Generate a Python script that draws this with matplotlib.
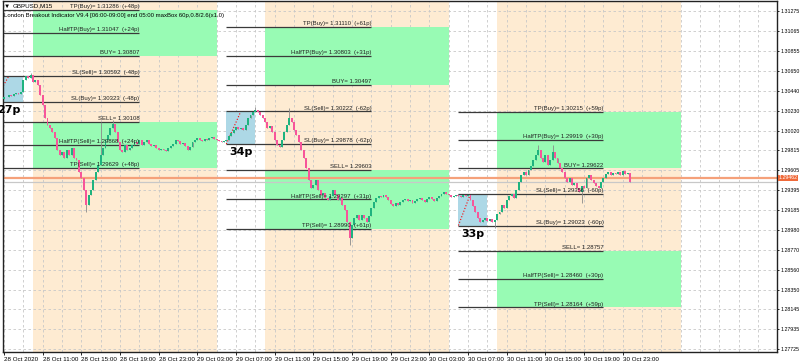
import numpy as np
import pandas as pd
import matplotlib
matplotlib.use("Agg")
from matplotlib import pyplot as plt
from matplotlib.patches import Rectangle

plt.rcParams['font.family'] = ['Liberation Sans', 'DejaVu Sans']

# GBPUSD M15 closes, first bar 28 Oct 2020 07:00
closes = [
    1.30372, 1.30372, 1.30393, 1.30382, 1.30403, 1.30414, 1.30403, 1.30424, 1.30551, 1.30593,
    1.30572, 1.30603, 1.30530, 1.30551, 1.30498, 1.30393, 1.30288, 1.30151, 1.30078, 1.30046,
    1.30004, 1.29941, 1.29815, 1.29763, 1.29794, 1.29731, 1.29815, 1.29763, 1.29836, 1.29731,
    1.29710, 1.29585, 1.29522, 1.29396, 1.29238, 1.29343, 1.29396, 1.29501, 1.29585, 1.29658,
    1.29763, 1.29836, 1.29920, 1.29973, 1.30046, 1.30088, 1.30004, 1.29899, 1.29815, 1.29794,
    1.29868, 1.29815, 1.29836, 1.29868, 1.29899, 1.29878, 1.29920, 1.29868, 1.29899, 1.29920,
    1.29878, 1.29857, 1.29868, 1.29836, 1.29815, 1.29826, 1.29815, 1.29805, 1.29836, 1.29857,
    1.29878, 1.29920, 1.29910, 1.29878, 1.29889, 1.29857, 1.29815, 1.29847, 1.29899, 1.29920,
    1.29941, 1.29920, 1.29910, 1.29931, 1.29920, 1.29941, 1.29952, 1.29931, 1.29920, 1.29910,
    1.29899, 1.29910, 1.29920, 1.29962, 1.29994, 1.30025, 1.30057, 1.30036, 1.30046, 1.30025,
    1.30078, 1.30151, 1.30183, 1.30214, 1.30235, 1.30214, 1.30183, 1.30151, 1.30109, 1.30046,
    1.30067, 1.30004, 1.29920, 1.29868, 1.29847, 1.29920, 1.30004, 1.30078, 1.30151, 1.30109,
    1.30025, 1.29973, 1.29899, 1.29815, 1.29731, 1.29627, 1.29501, 1.29417, 1.29448, 1.29501,
    1.29396, 1.29343, 1.29364, 1.29312, 1.29291, 1.29333, 1.29396, 1.29343, 1.29291, 1.29312,
    1.29238, 1.29186, 1.29060, 1.28892, 1.29028, 1.29102, 1.29133, 1.29081, 1.29133, 1.29102,
    1.29060, 1.29123, 1.29207, 1.29270, 1.29312, 1.29333, 1.29322, 1.29343, 1.29322, 1.29291,
    1.29249, 1.29228, 1.29259, 1.29238, 1.29270, 1.29291, 1.29301, 1.29280, 1.29291, 1.29259,
    1.29280, 1.29301, 1.29312, 1.29291, 1.29270, 1.29301, 1.29322, 1.29301, 1.29280, 1.29312,
    1.29333, 1.29354, 1.29375, 1.29354, 1.29343, 1.29322, 1.29333, 1.29343, 1.29333, 1.29322,
    1.29343, 1.29333, 1.29343, 1.29291, 1.29228, 1.29165, 1.29102, 1.29060, 1.29081, 1.29102,
    1.29070, 1.29091, 1.29060, 1.29081, 1.29144, 1.29165, 1.29238, 1.29207, 1.29291, 1.29333,
    1.29354, 1.29312, 1.29396, 1.29480, 1.29553, 1.29585, 1.29553, 1.29606, 1.29648, 1.29710,
    1.29763, 1.29815, 1.29731, 1.29689, 1.29763, 1.29658, 1.29710, 1.29794, 1.29731, 1.29679,
    1.29627, 1.29585, 1.29522, 1.29480, 1.29522, 1.29448, 1.29469, 1.29417, 1.29375, 1.29438,
    1.29417, 1.29522, 1.29553, 1.29501, 1.29469, 1.29438, 1.29417, 1.29480, 1.29522, 1.29564,
    1.29585, 1.29553, 1.29574, 1.29564, 1.29585, 1.29553, 1.29595, 1.29564, 1.29574, 1.29480,
]
first_open = 1.30350

# longer wicks visible on the chart
extra_highs = {'2020-10-28 09:45': 1.30624, '2020-10-28 17:00': 1.30109,
               '2020-10-28 18:15': 1.30130, '2020-10-29 09:00': 1.30267,
               '2020-10-29 12:30': 1.30256, '2020-10-30 14:15': 1.29868,
               '2020-10-30 15:45': 1.29868}
extra_lows = {'2020-10-28 15:30': 1.29165, '2020-10-29 18:45': 1.28818,
              '2020-10-30 09:45': 1.28997, '2020-10-30 18:45': 1.29259}

# breakout setups (one per day)
box_start = ['2020-10-28 06:00', '2020-10-29 06:00', '2020-10-30 06:00']
box_end = ['2020-10-28 09:00', '2020-10-29 09:00', '2020-10-30 09:00']
box_peak = ['2020-10-28 07:30', '2020-10-29 07:30', '2020-10-30 07:15']
line_end = ['2020-10-28 21:00', '2020-10-29 21:00', '2020-10-30 21:00']
session_start = ['2020-10-28 10:00', '2020-10-29 10:00', '2020-10-30 10:00']
session_end = ['2020-10-29 05:00', '2020-10-30 05:00', '2020-10-31 05:00']
box_pips = ['27p', '34p', '33p']
tp_buy = [1.31286, 1.31110, 1.30215]
half_tp_buy = [1.31047, 1.30803, 1.29919]
buy = [1.30807, 1.30497, 1.29622]
sl_sell = [1.30592, 1.30222, 1.29356]
sl_buy = [1.30323, 1.29878, 1.29023]
sell = [1.30108, 1.29603, 1.28757]
half_tp_sell = [1.29868, 1.29297, 1.28460]
tp_sell = [1.29629, 1.28990, 1.28164]
tp_p = ['+48p', '+61p', '+59p']
half_p = ['+24p', '+31p', '+30p']
sl_p = ['-48p', '-62p', '-60p']

yticks = [1.31275, 1.31065, 1.30855, 1.30650, 1.30440, 1.30230, 1.30020, 1.29815, 1.29605,
          1.29395, 1.29185, 1.28980, 1.28770, 1.28560, 1.28350, 1.28145, 1.27935, 1.27725]
xtick_times = pd.date_range('2020-10-28 07:00', '2020-10-30 23:00', freq='4h')
ask_price = 1.29522
bid_price = 1.29462

T0 = pd.Timestamp('2020-10-28 06:00')


def xpos(t):
    return (pd.Timestamp(t) - T0) / pd.Timedelta('15min')


times = pd.date_range('2020-10-28 07:00', periods=len(closes), freq='15min')
x = np.array([xpos(t) for t in times])
c = np.array(closes)
o = np.concatenate([[first_open], c[:-1]])
h = np.maximum(o, c)
l = np.minimum(o, c)
for t, v in extra_highs.items():
    k = int(xpos(t) - x[0])
    h[k] = max(h[k], v)
for t, v in extra_lows.items():
    k = int(xpos(t) - x[0])
    l[k] = min(l[k], v)

fig = plt.figure(figsize=(8, 3.62), dpi=100)
ax = fig.add_axes([3 / 800, 10 / 362, 774 / 800, 351 / 362])
ax.set_xlim(3.6, 323.8)
ax.set_ylim(1.27695, 1.31380)

beige = '#feebd2'
green = '#98fbb4'
blue = '#add8e6'

for i in range(3):
    s0, s1 = xpos(session_start[i]), xpos(session_end[i])
    ax.axvspan(s0, s1, color=beige, zorder=0, lw=0)
    ax.add_patch(Rectangle((s0, buy[i]), s1 - s0, tp_buy[i] - buy[i],
                           color=green, lw=0, zorder=1))
    ax.add_patch(Rectangle((s0, tp_sell[i]), s1 - s0, sell[i] - tp_sell[i],
                           color=green, lw=0, zorder=1))
    b0, b1 = xpos(box_start[i]), xpos(box_end[i])
    ax.add_patch(Rectangle((b0, sl_buy[i]), b1 - b0, sl_sell[i] - sl_buy[i],
                           color=blue, lw=0, zorder=1.2))
    ax.plot([b0, xpos(box_peak[i])], [sl_buy[i], sl_sell[i]], ls=':', color='red',
            lw=0.8, zorder=1.3)
    ax.text(b0 + 1.2, sl_buy[i] - 0.00035, box_pips[i], fontsize=8, fontweight='bold',
            family='DejaVu Sans', va='top', ha='left', zorder=5)

    e = xpos(line_end[i])
    levels = [
        (tp_buy[i], 'TP(Buy)= %.5f  (%s)' % (tp_buy[i], tp_p[i])),
        (half_tp_buy[i], 'HalfTP(Buy)= %.5f  (%s)' % (half_tp_buy[i], half_p[i])),
        (buy[i], 'BUY= %.5f' % buy[i]),
        (sl_sell[i], 'SL(Sell)= %.5f  (%s)' % (sl_sell[i], sl_p[i])),
        (sl_buy[i], 'SL(Buy)= %.5f  (%s)' % (sl_buy[i], sl_p[i])),
        (sell[i], 'SELL= %.5f' % sell[i]),
        (half_tp_sell[i], 'HalfTP(Sell)= %.5f  (%s)' % (half_tp_sell[i], half_p[i])),
        (tp_sell[i], 'TP(Sell)= %.5f  (%s)' % (tp_sell[i], tp_p[i])),
    ]
    for val, txt in levels:
        ax.hlines(val, b0, e, color='#3a3a3a', lw=0.9, zorder=2)
        ax.text(e, val + 0.00008, txt, fontsize=4.3, ha='right', va='bottom',
                color='#222222', zorder=4)

# grid
for v in yticks:
    ax.axhline(v, color='#c8c8c8', lw=0.6, ls=(0, (3, 3)), zorder=0.5)
for g in np.arange(4, 324, 8):
    ax.axvline(g, color='#c8c8c8', lw=0.6, ls=(0, (3, 3)), zorder=0.5)

# price lines
ax.axhline(ask_price, color='#f5a17a', lw=1.6, zorder=1.5)
ax.axhline(bid_price + 0.0002, color='#c8c8c8', lw=0.9, zorder=1.5)

# candles
up = c >= o
ax.vlines(x, l, h, color='#8a8a8a', lw=0.6, zorder=3)
body = np.maximum(np.abs(c - o), 0.00003)
ax.bar(x[up], body[up], bottom=np.minimum(o, c)[up], width=0.8, color='#1fb37f',
       lw=0, zorder=3.5)
ax.bar(x[~up], body[~up], bottom=np.minimum(o, c)[~up], width=0.8, color='#f7559a',
       lw=0, zorder=3.5)

# axes styling
for s in ax.spines.values():
    s.set_color('#222222')
    s.set_linewidth(1)
ax.yaxis.tick_right()
ax.set_yticks(yticks)
ax.set_yticklabels(['%.5f' % v for v in yticks], fontsize=3.8)
ax.tick_params(axis='y', length=1.5, pad=0.8, width=0.6)
ax.set_xticks([xpos(t) for t in xtick_times])
xl = ['28 Oct 2020'] + [t.strftime('%d Oct %H:%M') for t in xtick_times[1:]]
ax.set_xticklabels(xl, fontsize=4.5, ha='left')
ax.tick_params(axis='x', length=2, pad=1.5, width=0.6)

# current price label
ax.text(1.0025, ask_price, '1.29462', transform=ax.get_yaxis_transform(), fontsize=3.8,
        va='center', ha='left', color='white', zorder=6,
        bbox=dict(boxstyle='square,pad=0.1', fc='#f06a3a', ec='none'), clip_on=False)

fig.text(4 / 800, 1 - 6 / 362, '\u25bc', fontsize=4.5, va='center', ha='left')
fig.text(13 / 800, 1 - 6 / 362, 'GBPUSD,M15', fontsize=4.5, va='center', ha='left')
fig.text(4 / 800, 1 - 15 / 362,
         'London Breakout Indicator V9.4 [06:00-09:00] end 05:00 maxBox 60p,0.8/2.6(x1.0)',
         fontsize=4.3, va='center', ha='left')

fig.savefig('out.png', dpi=100)
